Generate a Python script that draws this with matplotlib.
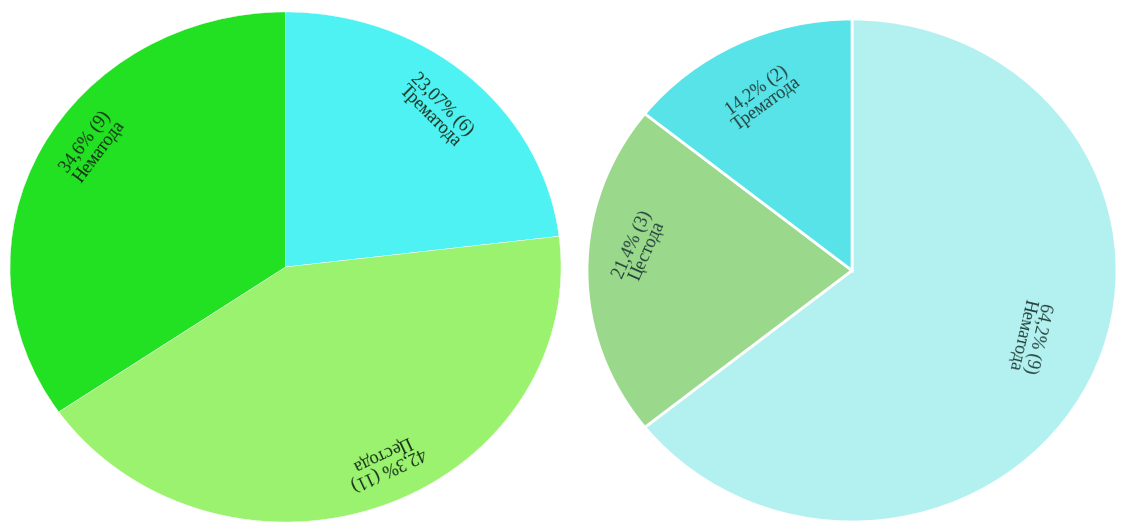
import matplotlib
matplotlib.use("Agg")
import matplotlib.pyplot as plt

plt.rcParams['font.family'] = ['Liberation Serif', 'DejaVu Serif']

# left chart
left_names = ['Трематода', 'Цестода', 'Нематода']
left_counts = [6, 11, 9]
left_pct = ['23,07%', '42,3%', '34,6%']
left_colors = ['#4ef2f2', '#9af26e', '#22e022']

# right chart
right_names = ['Нематода', 'Цестода', 'Трематода']
right_counts = [9, 3, 2]
right_pct = ['64,2%', '21,4%', '14,2%']
right_colors = ['#b3f1f1', '#9ad88b', '#57e3e8']

W, H = 1124, 529
fig = plt.figure(figsize=(W / 100, H / 100), dpi=100)


def box(x0, y0, x1, y1):
    # pixel box (top-left origin) -> figure fraction
    return [x0 / W, 1 - y1 / H, (x1 - x0) / W, (y1 - y0) / H]


def draw(ax, counts, colors, edge_lw):
    ax.pie(counts, colors=colors, startangle=90, counterclock=False,
           radius=1, wedgeprops=dict(edgecolor='white', linewidth=edge_lw))
    ax.set_aspect('auto')
    ax.set_xlim(-1, 1)
    ax.set_ylim(-1, 1)
    ax.axis('off')


ax1 = fig.add_axes(box(10, 12, 561, 522))
draw(ax1, left_counts, left_colors, 0.3)
# label placement: (x, y, rotation) per slice
left_pos = [(0.546, 0.616, -45), (0.36, -0.76, 205), (-0.70, 0.47, 53)]
for name, n, pct, (x, y, rot) in zip(left_names, left_counts, left_pct, left_pos):
    ax1.text(x, y, f"{pct} ({n})\n{name}", rotation=rot, rotation_mode='anchor',
             ha='center', va='center', fontsize=13, color='#17301a',
             linespacing=0.95)

ax2 = fig.add_axes(box(587, 19, 1117, 522))
draw(ax2, right_counts, right_colors, 2)
right_pos = [(0.67, -0.26, -103), (-0.80, 0.09, 66), (-0.34, 0.69, 36)]
for name, n, pct, (x, y, rot) in zip(right_names, right_counts, right_pct, right_pos):
    ax2.text(x, y, f"{pct} ({n})\n{name}", rotation=rot, rotation_mode='anchor',
             ha='center', va='center', fontsize=13, color='#24423c',
             linespacing=0.95)

fig.savefig('out.png', dpi=100)
